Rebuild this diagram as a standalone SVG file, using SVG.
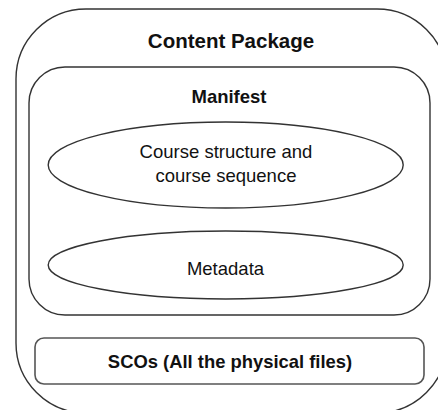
<svg xmlns="http://www.w3.org/2000/svg" width="438" height="410" viewBox="0 0 438 410">
  <style>
    .box { fill: #ffffff; stroke: #333333; stroke-width: 1.4; }
    .sco { fill: #ffffff; stroke: #555555; stroke-width: 1.6; }
    .title { font-family: "Liberation Sans", Arial, sans-serif; font-weight: bold; fill: #111111; text-anchor: middle; }
    .label { font-family: "Liberation Sans", Arial, sans-serif; fill: #111111; text-anchor: middle; font-size: 18.5px; }
  </style>
  <rect width="438" height="410" fill="#ffffff"/>

  <g id="content-package">
    <rect class="box" x="16" y="9" width="431" height="404" rx="70" ry="70"/>
    <text class="title" x="231" y="48" font-size="20.5">Content Package</text>
  </g>

  <g id="manifest">
    <rect class="box" x="29" y="67" width="401" height="248" rx="36" ry="36"/>
    <text class="title" x="229" y="103" font-size="18.5">Manifest</text>
  </g>

  <g id="course-structure">
    <ellipse class="box" cx="225.7" cy="165" rx="177.5" ry="43"/>
    <text class="label" x="226" y="158">Course structure and</text>
    <text class="label" x="226" y="181.5">course sequence</text>
  </g>

  <g id="metadata">
    <ellipse class="box" cx="225.7" cy="265" rx="177.5" ry="34"/>
    <text class="label" x="225.5" y="275">Metadata</text>
  </g>

  <g id="scos">
    <rect class="sco" x="35" y="338" width="389" height="46" rx="9" ry="9"/>
    <text class="title" x="230" y="367.5" font-size="18.4">SCOs (All the physical files)</text>
  </g>

  <g id="connectors"></g>
</svg>
